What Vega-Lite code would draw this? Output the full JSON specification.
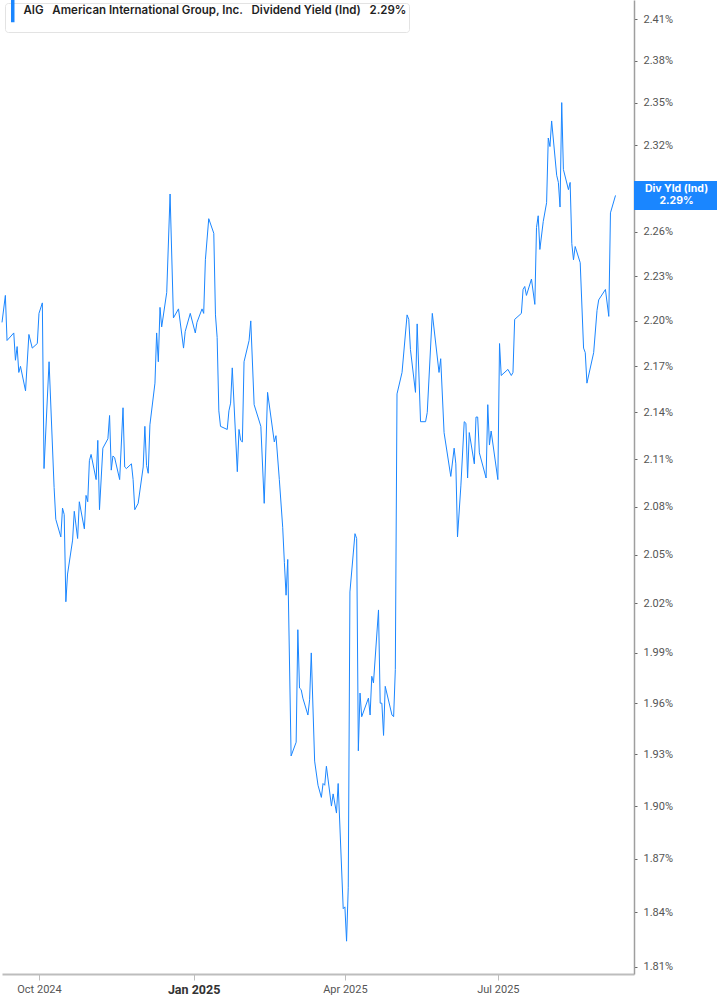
{
  "$schema": "https://vega.github.io/schema/vega-lite/v6.json",
  "width": 632,
  "height": 974,
  "padding": 0,
  "background": "white",
  "config": {"view": {"stroke": null}, "font": "Roboto"},
  "layer": [
    {
      "data": {
        "values": [
          {"date": "2024-09-09", "yield": 2.199}, {"date": "2024-09-11", "yield": 2.217}, {"date": "2024-09-12", "yield": 2.187},
          {"date": "2024-09-16", "yield": 2.192}, {"date": "2024-09-17", "yield": 2.174}, {"date": "2024-09-18", "yield": 2.183},
          {"date": "2024-09-19", "yield": 2.166}, {"date": "2024-09-20", "yield": 2.170}, {"date": "2024-09-23", "yield": 2.154},
          {"date": "2024-09-25", "yield": 2.191}, {"date": "2024-09-27", "yield": 2.182}, {"date": "2024-09-30", "yield": 2.185},
          {"date": "2024-10-01", "yield": 2.205}, {"date": "2024-10-03", "yield": 2.212}, {"date": "2024-10-04", "yield": 2.104},
          {"date": "2024-10-07", "yield": 2.173}, {"date": "2024-10-10", "yield": 2.092}, {"date": "2024-10-11", "yield": 2.072},
          {"date": "2024-10-14", "yield": 2.061}, {"date": "2024-10-15", "yield": 2.079}, {"date": "2024-10-16", "yield": 2.075},
          {"date": "2024-10-17", "yield": 2.021}, {"date": "2024-10-18", "yield": 2.038}, {"date": "2024-10-21", "yield": 2.059},
          {"date": "2024-10-22", "yield": 2.077}, {"date": "2024-10-24", "yield": 2.060}, {"date": "2024-10-25", "yield": 2.083},
          {"date": "2024-10-28", "yield": 2.066}, {"date": "2024-10-29", "yield": 2.087}, {"date": "2024-10-30", "yield": 2.083},
          {"date": "2024-10-31", "yield": 2.109}, {"date": "2024-11-01", "yield": 2.113}, {"date": "2024-11-04", "yield": 2.097},
          {"date": "2024-11-05", "yield": 2.122}, {"date": "2024-11-06", "yield": 2.078}, {"date": "2024-11-08", "yield": 2.117},
          {"date": "2024-11-11", "yield": 2.123}, {"date": "2024-11-12", "yield": 2.138}, {"date": "2024-11-13", "yield": 2.103},
          {"date": "2024-11-14", "yield": 2.112}, {"date": "2024-11-15", "yield": 2.111}, {"date": "2024-11-18", "yield": 2.097},
          {"date": "2024-11-20", "yield": 2.143}, {"date": "2024-11-21", "yield": 2.105}, {"date": "2024-11-22", "yield": 2.104},
          {"date": "2024-11-25", "yield": 2.107}, {"date": "2024-11-26", "yield": 2.097}, {"date": "2024-11-27", "yield": 2.078},
          {"date": "2024-11-29", "yield": 2.082}, {"date": "2024-12-02", "yield": 2.105}, {"date": "2024-12-03", "yield": 2.131},
          {"date": "2024-12-04", "yield": 2.106}, {"date": "2024-12-05", "yield": 2.101}, {"date": "2024-12-06", "yield": 2.132},
          {"date": "2024-12-09", "yield": 2.159}, {"date": "2024-12-10", "yield": 2.192}, {"date": "2024-12-11", "yield": 2.173},
          {"date": "2024-12-12", "yield": 2.209}, {"date": "2024-12-13", "yield": 2.196}, {"date": "2024-12-16", "yield": 2.219},
          {"date": "2024-12-18", "yield": 2.286}, {"date": "2024-12-20", "yield": 2.202}, {"date": "2024-12-23", "yield": 2.208},
          {"date": "2024-12-26", "yield": 2.182}, {"date": "2024-12-27", "yield": 2.193}, {"date": "2024-12-30", "yield": 2.205},
          {"date": "2025-01-02", "yield": 2.192}, {"date": "2025-01-03", "yield": 2.199}, {"date": "2025-01-06", "yield": 2.208},
          {"date": "2025-01-07", "yield": 2.205}, {"date": "2025-01-08", "yield": 2.241}, {"date": "2025-01-10", "yield": 2.269},
          {"date": "2025-01-13", "yield": 2.259}, {"date": "2025-01-14", "yield": 2.204}, {"date": "2025-01-15", "yield": 2.189},
          {"date": "2025-01-16", "yield": 2.141}, {"date": "2025-01-17", "yield": 2.131}, {"date": "2025-01-21", "yield": 2.129},
          {"date": "2025-01-22", "yield": 2.141}, {"date": "2025-01-23", "yield": 2.146}, {"date": "2025-01-24", "yield": 2.169},
          {"date": "2025-01-27", "yield": 2.102}, {"date": "2025-01-28", "yield": 2.129}, {"date": "2025-01-29", "yield": 2.122},
          {"date": "2025-01-30", "yield": 2.121}, {"date": "2025-01-31", "yield": 2.173}, {"date": "2025-02-03", "yield": 2.187},
          {"date": "2025-02-04", "yield": 2.200}, {"date": "2025-02-06", "yield": 2.145}, {"date": "2025-02-10", "yield": 2.131},
          {"date": "2025-02-12", "yield": 2.082}, {"date": "2025-02-14", "yield": 2.153}, {"date": "2025-02-18", "yield": 2.121},
          {"date": "2025-02-19", "yield": 2.125}, {"date": "2025-02-21", "yield": 2.097}, {"date": "2025-02-23", "yield": 2.067},
          {"date": "2025-02-24", "yield": 2.045}, {"date": "2025-02-25", "yield": 2.025}, {"date": "2025-02-26", "yield": 2.047},
          {"date": "2025-02-28", "yield": 1.929}, {"date": "2025-03-03", "yield": 1.937}, {"date": "2025-03-04", "yield": 2.004},
          {"date": "2025-03-05", "yield": 1.969}, {"date": "2025-03-06", "yield": 1.968}, {"date": "2025-03-07", "yield": 1.963},
          {"date": "2025-03-10", "yield": 1.953}, {"date": "2025-03-11", "yield": 1.962}, {"date": "2025-03-12", "yield": 1.990},
          {"date": "2025-03-14", "yield": 1.926}, {"date": "2025-03-16", "yield": 1.912}, {"date": "2025-03-18", "yield": 1.905},
          {"date": "2025-03-19", "yield": 1.913}, {"date": "2025-03-20", "yield": 1.912}, {"date": "2025-03-21", "yield": 1.923},
          {"date": "2025-03-24", "yield": 1.900}, {"date": "2025-03-25", "yield": 1.907}, {"date": "2025-03-27", "yield": 1.896},
          {"date": "2025-03-28", "yield": 1.913}, {"date": "2025-03-31", "yield": 1.842}, {"date": "2025-04-01", "yield": 1.843},
          {"date": "2025-04-02", "yield": 1.824}, {"date": "2025-04-03", "yield": 1.854}, {"date": "2025-04-04", "yield": 2.027},
          {"date": "2025-04-06", "yield": 2.051}, {"date": "2025-04-07", "yield": 2.063}, {"date": "2025-04-08", "yield": 2.060},
          {"date": "2025-04-09", "yield": 1.932}, {"date": "2025-04-10", "yield": 1.966}, {"date": "2025-04-11", "yield": 1.952},
          {"date": "2025-04-15", "yield": 1.963}, {"date": "2025-04-16", "yield": 1.953}, {"date": "2025-04-17", "yield": 1.976},
          {"date": "2025-04-18", "yield": 1.972}, {"date": "2025-04-21", "yield": 2.016}, {"date": "2025-04-22", "yield": 1.960},
          {"date": "2025-04-23", "yield": 1.960}, {"date": "2025-04-24", "yield": 1.941}, {"date": "2025-04-25", "yield": 1.970},
          {"date": "2025-04-29", "yield": 1.953}, {"date": "2025-04-30", "yield": 1.952}, {"date": "2025-05-01", "yield": 1.980},
          {"date": "2025-05-02", "yield": 2.152}, {"date": "2025-05-05", "yield": 2.166}, {"date": "2025-05-08", "yield": 2.204},
          {"date": "2025-05-09", "yield": 2.201}, {"date": "2025-05-10", "yield": 2.181}, {"date": "2025-05-13", "yield": 2.153},
          {"date": "2025-05-14", "yield": 2.198}, {"date": "2025-05-16", "yield": 2.134}, {"date": "2025-05-19", "yield": 2.134},
          {"date": "2025-05-20", "yield": 2.140}, {"date": "2025-05-23", "yield": 2.205}, {"date": "2025-05-27", "yield": 2.166},
          {"date": "2025-05-28", "yield": 2.175}, {"date": "2025-05-30", "yield": 2.127}, {"date": "2025-06-03", "yield": 2.099},
          {"date": "2025-06-05", "yield": 2.117}, {"date": "2025-06-06", "yield": 2.107}, {"date": "2025-06-07", "yield": 2.061},
          {"date": "2025-06-09", "yield": 2.093}, {"date": "2025-06-11", "yield": 2.134}, {"date": "2025-06-12", "yield": 2.133},
          {"date": "2025-06-13", "yield": 2.098}, {"date": "2025-06-14", "yield": 2.127}, {"date": "2025-06-17", "yield": 2.107},
          {"date": "2025-06-18", "yield": 2.137}, {"date": "2025-06-19", "yield": 2.137}, {"date": "2025-06-20", "yield": 2.114},
          {"date": "2025-06-24", "yield": 2.098}, {"date": "2025-06-25", "yield": 2.145}, {"date": "2025-06-26", "yield": 2.119},
          {"date": "2025-06-27", "yield": 2.128}, {"date": "2025-07-01", "yield": 2.097}, {"date": "2025-07-02", "yield": 2.185},
          {"date": "2025-07-03", "yield": 2.164}, {"date": "2025-07-07", "yield": 2.168}, {"date": "2025-07-09", "yield": 2.164},
          {"date": "2025-07-10", "yield": 2.166}, {"date": "2025-07-11", "yield": 2.201}, {"date": "2025-07-15", "yield": 2.205},
          {"date": "2025-07-16", "yield": 2.221}, {"date": "2025-07-17", "yield": 2.223}, {"date": "2025-07-18", "yield": 2.217},
          {"date": "2025-07-21", "yield": 2.228}, {"date": "2025-07-23", "yield": 2.211}, {"date": "2025-07-24", "yield": 2.263},
          {"date": "2025-07-25", "yield": 2.271}, {"date": "2025-07-26", "yield": 2.248}, {"date": "2025-07-28", "yield": 2.267},
          {"date": "2025-07-30", "yield": 2.280}, {"date": "2025-07-31", "yield": 2.325}, {"date": "2025-08-01", "yield": 2.319},
          {"date": "2025-08-02", "yield": 2.337}, {"date": "2025-08-05", "yield": 2.299}, {"date": "2025-08-06", "yield": 2.294},
          {"date": "2025-08-07", "yield": 2.277}, {"date": "2025-08-08", "yield": 2.350}, {"date": "2025-08-09", "yield": 2.303},
          {"date": "2025-08-12", "yield": 2.289}, {"date": "2025-08-13", "yield": 2.294}, {"date": "2025-08-14", "yield": 2.252},
          {"date": "2025-08-15", "yield": 2.241}, {"date": "2025-08-16", "yield": 2.250}, {"date": "2025-08-19", "yield": 2.239},
          {"date": "2025-08-21", "yield": 2.182}, {"date": "2025-08-22", "yield": 2.179}, {"date": "2025-08-23", "yield": 2.159},
          {"date": "2025-08-27", "yield": 2.179}, {"date": "2025-08-29", "yield": 2.207}, {"date": "2025-08-30", "yield": 2.214},
          {"date": "2025-09-03", "yield": 2.221}, {"date": "2025-09-05", "yield": 2.203}, {"date": "2025-09-06", "yield": 2.273},
          {"date": "2025-09-09", "yield": 2.285}
        ]
      },
      "mark": {"type": "line", "strokeWidth": 1, "interpolate": "linear"},
      "encoding": {
        "x": {
          "field": "date",
          "type": "temporal",
          "scale": {
            "type": "utc",
            "domain": [
              {"year": 2024, "month": 9, "date": 9, "utc": true},
              {"year": 2025, "month": 9, "date": 20, "utc": true}
            ]
          },
          "axis": {
            "title": null,
            "grid": false,
            "values": [
              {"year": 2024, "month": 10, "date": 1, "utc": true},
              {"year": 2025, "month": 1, "date": 1, "utc": true},
              {"year": 2025, "month": 4, "date": 1, "utc": true},
              {"year": 2025, "month": 7, "date": 1, "utc": true}
            ],
            "labelExpr": "utcFormat(datum.value, '%b %Y')",
            "domainColor": "#bdbdbd",
            "domainWidth": 2,
            "tickColor": "#bdbdbd",
            "tickSize": 6,
            "labelPadding": 3,
            "labelFlush": false,
            "labelFont": "Roboto",
            "labelColor": {"condition": {"test": "utcmonth(datum.value) == 0", "value": "#333333"}, "value": "#555555"},
            "labelFontSize": {"condition": {"test": "utcmonth(datum.value) == 0", "value": 12.5}, "value": 11},
            "labelFontWeight": {"condition": {"test": "utcmonth(datum.value) == 0", "value": "bold"}, "value": "normal"}
          }
        },
        "y": {
          "field": "yield",
          "type": "quantitative",
          "scale": {"type": "log", "domain": [1.806, 2.424], "nice": false, "zero": false},
          "axis": {
            "title": null,
            "orient": "right",
            "grid": false,
            "values": [1.81, 1.84, 1.87, 1.9, 1.93, 1.96, 1.99, 2.02, 2.05, 2.08, 2.11, 2.14, 2.17, 2.2, 2.23, 2.26, 2.32, 2.35, 2.38, 2.41],
            "labelExpr": "format(datum.value, '.2f') + '%'",
            "domainColor": "#9e9e9e",
            "domainWidth": 1.5,
            "tickColor": "#666666",
            "tickSize": 3,
            "labelPadding": 6,
            "labelColor": "#555555",
            "labelFont": "Roboto",
            "labelFontSize": 11
          }
        },
        "color": {
          "datum": "AIG\u00a0\u00a0\u00a0American International Group, Inc.\u00a0\u00a0\u00a0Dividend Yield (Ind)\u00a0\u00a0\u00a02.29%\u00a0\u00a0",
          "type": "nominal",
          "scale": {"range": ["#1a86ff"]},
          "legend": {
            "title": null,
            "orient": "top-left",
            "offset": 3,
            "padding": 2,
            "fillColor": "white",
            "strokeColor": "#e3e3e3",
            "cornerRadius": 3,
            "symbolType": "M0,-5.75L0,5.75",
            "symbolSize": 16,
            "symbolStrokeWidth": 3.5,
            "symbolStrokeColor": "#1a86ff",
            "labelFont": "Inter",
            "labelFontSize": 11.5,
            "labelFontWeight": 600,
            "labelColor": "#1f1f1f",
            "labelLimit": 600,
            "labelOffset": 5
          }
        }
      }
    },
    {
      "data": {"values": [{"date": "2025-09-09", "yield": 2.285, "tag": "Div Yld (Ind)\n2.29%"}]},
      "mark": {
        "type": "point",
        "shape": "M1.85,-1.45H10.4V1.45H1.85Z",
        "size": 400,
        "filled": true,
        "opacity": 1,
        "color": "#1a86ff",
        "strokeWidth": 0
      },
      "encoding": {
        "x": {"field": "date", "type": "temporal"},
        "y": {"field": "yield", "type": "quantitative"}
      }
    },
    {
      "data": {"values": [{"date": "2025-09-09", "yield": 2.285, "tag": "Div Yld (Ind)\n2.29%"}]},
      "mark": {
        "type": "text",
        "dx": 61,
        "dy": -6,
        "align": "center",
        "baseline": "middle",
        "lineBreak": "\n",
        "lineHeight": 12,
        "font": "Inter",
        "fontSize": 10.5,
        "fontWeight": "bold",
        "color": "white"
      },
      "encoding": {
        "x": {"field": "date", "type": "temporal"},
        "y": {"field": "yield", "type": "quantitative"},
        "text": {"field": "tag"}
      }
    }
  ]
}
